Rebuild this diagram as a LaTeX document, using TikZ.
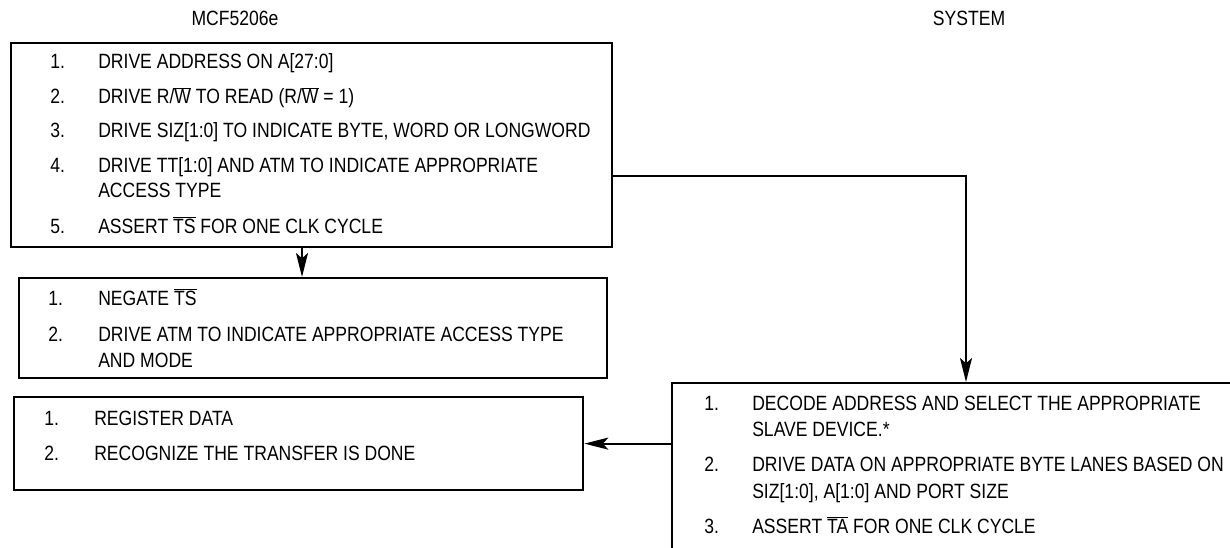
\documentclass[tikz,border=0pt]{standalone}
\usepackage{fontspec}
\setmainfont{Liberation Sans}[FakeStretch=0.85]
\usetikzlibrary{arrows.meta}
\newcommand{\ovl}[1]{$\overline{\mbox{#1}}$}

\begin{document}
\begin{tikzpicture}[x=0.75pt,y=-0.75pt,font=\fontsize{15.5}{18}\selectfont,
	box/.style={draw,line width=1.7pt,anchor=north west,inner sep=0pt},
	item/.style={anchor=base west,inner sep=0pt},
	arr/.style={line width=1.7pt,-{Stealth[length=18pt,width=9pt,inset=4pt]}}]
		\clip (0,0) rectangle (1230,548);
		\node[anchor=base] (mcfhead) at (235,26) {MCF5206e};
		\node[anchor=base] (syshead) at (969,26) {SYSTEM};
		% bus master side
		\node[box,minimum width=450.75pt,minimum height=153pt] (start) at (10,42) {};
		\node[item] (s1n) at (50,69) {1.};   \node[item] (s1) at (98,69) {DRIVE ADDRESS ON A[27:0]};
		\node[item] (s2n) at (50,104) {2.};  \node[item] (s2) at (98,104) {DRIVE R/\ovl{W} TO READ (R/\ovl{W} = 1)};
		\node[item] (s3n) at (50,138) {3.};  \node[item] (s3) at (98,138) {DRIVE SIZ[1:0] TO INDICATE BYTE, WORD OR LONGWORD};
		\node[item] (s4n) at (50,173) {4.};  \node[item] (s4) at (98,173) {DRIVE TT[1:0] AND ATM TO INDICATE APPROPRIATE};
		\node[item] (s4b) at (98,198) {ACCESS TYPE};
		\node[item] (s5n) at (50,234) {5.};  \node[item] (s5) at (98,234) {ASSERT \ovl{TS} FOR ONE CLK CYCLE};
		\node[box,minimum width=441pt,minimum height=75pt] (negate) at (18,277) {};
		\node[item] (n1n) at (48,306) {1.};  \node[item] (n1) at (98,306) {NEGATE \ovl{TS}};
		\node[item] (n2n) at (48,342) {2.};  \node[item] (n2) at (98,342) {DRIVE ATM TO INDICATE APPROPRIATE ACCESS TYPE};
		\node[item] (n2b) at (98,368) {AND MODE};
		\node[box,minimum width=426.75pt,minimum height=69.75pt] (done) at (13,396) {};
		\node[item] (d1n) at (44,426) {1.};  \node[item] (d1) at (94,426) {REGISTER DATA};
		\node[item] (d2n) at (44,460) {2.};  \node[item] (d2) at (94,460) {RECOGNIZE THE TRANSFER IS DONE};
		% slave side
		\node[box,minimum width=450pt,minimum height=150pt] (slave) at (671,382) {};
		\node[item] (v1n) at (704,411) {1.}; \node[item] (v1) at (752,411) {DECODE ADDRESS AND SELECT THE APPROPRIATE};
		\node[item] (v1b) at (752,436) {SLAVE DEVICE.*};
		\node[item] (v2n) at (704,471) {2.}; \node[item] (v2) at (752,471) {DRIVE DATA ON APPROPRIATE BYTE LANES BASED ON};
		\node[item] (v2b) at (752,498) {SIZ[1:0], A[1:0] AND PORT SIZE};
		\node[item] (v3n) at (704,533) {3.}; \node[item] (v3) at (752,533) {ASSERT \ovl{TA} FOR ONE CLK CYCLE};
		% connectors
		\coordinate (drop) at (302,0);
		\coordinate (turn) at (966,176);
		\draw[arr] (drop |- start.south) -- (drop |- negate.north);
		\draw[arr] (start.east |- turn) -| (turn |- slave.north);
		\draw[arr] (slave.west |- done.east) -- (done.east);
		\end{tikzpicture}
\end{document}
